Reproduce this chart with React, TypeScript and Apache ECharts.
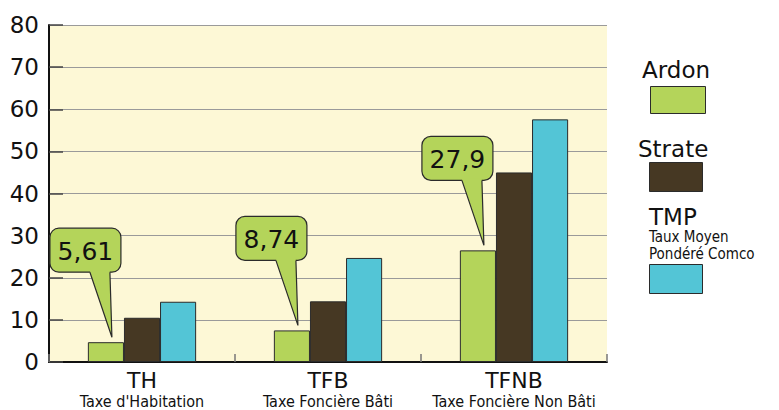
import React, { useEffect, useRef } from "react";
import * as echarts from "echarts";

const categoryCodes = ["TH", "TFB", "TFNB"];
const categoryNames = ["Taxe d'Habitation", "Taxe Foncière Bâti", "Taxe Foncière Non Bâti"];
const seriesNames = ["Ardon", "Strate", "TMP"];
const tmpSubtitle = ["Taux Moyen", "Pondéré Comco"];
const ardonValues = [4.7, 7.5, 26.5];
const strateValues = [10.5, 14.4, 45];
const tmpValues = [14.3, 24.7, 57.6];
const calloutLabels = ["5,61", "8,74", "27,9"];
const yTicks = { min: 0, max: 80, interval: 10 };

const GREEN = "#B4D45A";
const BROWN = "#463823";
const BLUE = "#53C5D6";
const BORDER = "#2b2b2b";
const FONT = "DejaVu Sans";
const COND = "'DejaVu Sans Condensed', 'DejaVu Sans'";

export default function App() {
  const ref = useRef<HTMLDivElement>(null);
  useEffect(() => {
    if (!ref.current) return;
    const chart = echarts.init(ref.current, null, { renderer: "svg" });
    const barStyle = (c: string) => ({ color: c, borderColor: BORDER, borderWidth: 1 });

    const legendItems = [
      { name: seriesNames[0], color: GREEN, tx: 642, ty: 58, rx: 650, ry: 86, rw: 55, rh: 27 },
      { name: seriesNames[1], color: BROWN, tx: 638, ty: 137, rx: 649, ry: 162, rw: 53, rh: 29 },
      { name: seriesNames[2], color: BLUE, tx: 649, ty: 205, rx: 649, ry: 264, rw: 53, rh: 29 },
    ];
    const graphic: any[] = [];
    legendItems.forEach((it) => {
      graphic.push({
        type: "text",
        left: it.tx,
        top: it.ty,
        style: { text: it.name, fontSize: 23, lineHeight: 24, fontFamily: FONT, fill: "#111" },
      });
      graphic.push({
        type: "rect",
        left: it.rx,
        top: it.ry,
        shape: { width: it.rw, height: it.rh },
        style: { fill: it.color, stroke: BORDER, lineWidth: 1 },
      });
    });
    tmpSubtitle.forEach((t, i) => {
      graphic.push({
        type: "text",
        left: 649,
        top: 229 + i * 17,
        style: { text: t, fontSize: 15, lineHeight: 16, fontFamily: COND, fill: "#111" },
      });
    });

    const option: any = {
      animation: false,
      grid: {
        left: 49,
        right: 172,
        top: 25,
        bottom: 48,
        show: true,
        backgroundColor: "#FDF8D6",
        borderWidth: 0,
      },
      graphic,
      xAxis: {
        type: "category",
        data: categoryCodes,
        axisLine: { lineStyle: { color: "#111", width: 2 } },
        axisTick: { show: true, inside: true, length: 8, interval: 0, lineStyle: { color: "#777", width: 1.5 } },
        axisLabel: {
          interval: 0,
          margin: 6,
          formatter: (v: string, i: number) => `{a|${v}}\n{b|${categoryNames[i]}}`,
          rich: {
            a: { fontSize: 22, lineHeight: 24, fontFamily: FONT, color: "#111" },
            b: { fontSize: 16, lineHeight: 18, fontFamily: COND, color: "#111" },
          },
        },
      },
      yAxis: {
        type: "value",
        min: yTicks.min,
        max: yTicks.max,
        interval: yTicks.interval,
        axisLine: { show: true, lineStyle: { color: "#111", width: 2 } },
        axisTick: { show: true, inside: true, length: 14, lineStyle: { color: "#444", width: 1.5 } },
        axisLabel: { fontSize: 23, fontFamily: FONT, color: "#111", margin: 10 },
        splitLine: { lineStyle: { color: "#9a9a9a", width: 1 } },
      },
      series: [
        { name: seriesNames[0], type: "bar", data: ardonValues, barWidth: "19.4%", barGap: "0%", itemStyle: barStyle(GREEN) },
        { name: seriesNames[1], type: "bar", data: strateValues, barWidth: "19.4%", barGap: "0%", itemStyle: barStyle(BROWN) },
        { name: seriesNames[2], type: "bar", data: tmpValues, barWidth: "19.4%", barGap: "0%", itemStyle: barStyle(BLUE) },
        {
          type: "custom",
          z: 10,
          clip: false,
          silent: true,
          data: ardonValues.map((v, i) => [i, v]),
          encode: { x: 0, y: 1 },
          renderItem: (params: any, api: any) => {
            const idx = api.value(0);
            const val = api.value(1);
            const pt = api.coord([idx, val]);
            const band = api.size([1, 0])[0];
            const bw = band * 0.194;
            const greenCenter = pt[0] - bw;
            const tipX = greenCenter + 6;
            const tipY = pt[1] - 5;
            const bl = tipX - 62;
            const bb = tipY - 65;
            const w = 71;
            const h = 44;
            const bt = bb - h;
            return {
              type: "group",
              children: [
                {
                  type: "rect",
                  shape: { x: bl, y: bt, width: w, height: h, r: 9 },
                  style: { fill: GREEN, stroke: BORDER, lineWidth: 1.2 },
                },
                {
                  type: "polygon",
                  shape: { points: [[bl + 40.5, bb - 2], [bl + 59.5, bb - 2], [bl + 60, bb], [tipX, tipY], [bl + 40, bb]] },
                  style: { fill: GREEN },
                },
                {
                  type: "polyline",
                  shape: { points: [[bl + 40, bb], [tipX, tipY], [bl + 60, bb]] },
                  style: { fill: null, stroke: BORDER, lineWidth: 1.2 },
                },
                {
                  type: "text",
                  x: bl + w / 2,
                  y: bt + h / 2 + 1,
                  style: {
                    text: calloutLabels[params.dataIndex],
                    fontSize: 25,
                    fontFamily: FONT,
                    fill: "#111",
                    align: "center",
                    verticalAlign: "middle",
                  },
                },
              ],
            };
          },
        },
      ],
    };
    chart.setOption(option);
    return () => chart.dispose();
  }, []);
  return <div ref={ref} style={{ position: "fixed", left: 0, top: 0, width: 779, height: 410, background: "#fff" }} />;
}
